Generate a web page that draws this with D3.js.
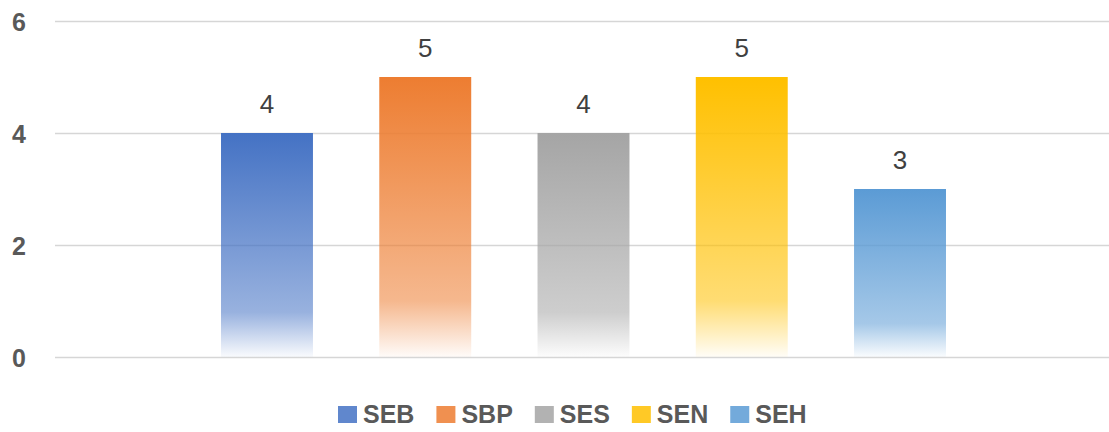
<!DOCTYPE html>
<html>
<head>
<meta charset="utf-8">
<script src="https://cdn.jsdelivr.net/npm/d3@7"></script>
<style>
  html, body { margin: 0; padding: 0; background: #fff; }
  svg { display: block; }
</style>
</head>
<body>
<svg id="chart" width="1109" height="432"></svg>
<script>
const seriesNames = ["SEB", "SBP", "SES", "SEN", "SEH"];
const seriesValues = [4, 5, 4, 5, 3];
const seriesColors = ["#4472C4", "#ED7D31", "#A5A5A5", "#FFC000", "#5B9BD5"];
const yTicks = [0, 2, 4, 6];

(function () {
const svg = d3.select("#chart");
const W = 1109;
const mLeft = 55, mRight = 1112, mTop = 21, mBottom = 357;

const x = d3.scaleBand().domain(seriesNames).range([mLeft, mRight])
  .paddingInner(0.419).paddingOuter(1.049);
const y = d3.scaleLinear().domain([0, 6]).range([mBottom, mTop]);

// gradients
const defs = svg.append("defs");
seriesNames.forEach((s, i) => {
  const g = defs.append("linearGradient").attr("id", "grad" + i)
    .attr("x1", 0).attr("y1", 0).attr("x2", 0).attr("y2", 1);
  g.append("stop").attr("offset", "0%").attr("stop-color", seriesColors[i]).attr("stop-opacity", 1);
  g.append("stop").attr("offset", "80%").attr("stop-color", seriesColors[i]).attr("stop-opacity", 0.55);
  g.append("stop").attr("offset", "100%").attr("stop-color", seriesColors[i]).attr("stop-opacity", 0.03);
});

// gridlines
const yAxis = d3.axisLeft(y).tickValues(yTicks).tickSize(-(W - mLeft)).tickPadding(29).tickFormat(d3.format("d"));
const gy = svg.append("g").attr("transform", `translate(${mLeft},0)`).call(yAxis);
gy.select(".domain").remove();
gy.selectAll(".tick line").attr("stroke", "#d6d6d6").attr("stroke-width", 1.3);
gy.selectAll(".tick text")
  .attr("fill", "#595959")
  .style("font-family", "'Liberation Sans', Arial, sans-serif")
  .style("font-size", "25px")
  .style("font-weight", "bold")
  .attr("dy", "0.36em");

// bars
svg.append("g").selectAll("rect").data(seriesNames).join("rect")
  .attr("x", d => x(d))
  .attr("width", x.bandwidth())
  .attr("y", (d, i) => y(seriesValues[i]))
  .attr("height", (d, i) => y(0) - y(seriesValues[i]))
  .attr("fill", (d, i) => `url(#grad${i})`);

// value labels
svg.append("g").selectAll("text").data(seriesNames).join("text")
  .attr("x", d => x(d) + x.bandwidth() / 2)
  .attr("y", (d, i) => y(seriesValues[i]) - 20)
  .attr("text-anchor", "middle")
  .attr("fill", "#404040")
  .style("font-family", "'Liberation Sans', Arial, sans-serif")
  .style("font-size", "26px")
  .text((d, i) => seriesValues[i]);

// legend
const legend = svg.append("g");
let lx = 338;
seriesNames.forEach((s, i) => {
  const g = legend.append("g").attr("transform", `translate(${lx},0)`);
  g.append("rect").attr("x", 0).attr("y", 406).attr("width", 19).attr("height", 17)
    .attr("fill", seriesColors[i]).attr("opacity", 0.85);
  const t = g.append("text").attr("x", 25).attr("y", 423)
    .attr("fill", "#595959")
    .style("font-family", "'Liberation Sans', Arial, sans-serif")
    .style("font-size", "25px")
    .style("font-weight", "bold")
    .text(s);
  const tw = t.node().getComputedTextLength();
  lx += 25 + tw + 22;
});
})();
</script>
</body>
</html>
